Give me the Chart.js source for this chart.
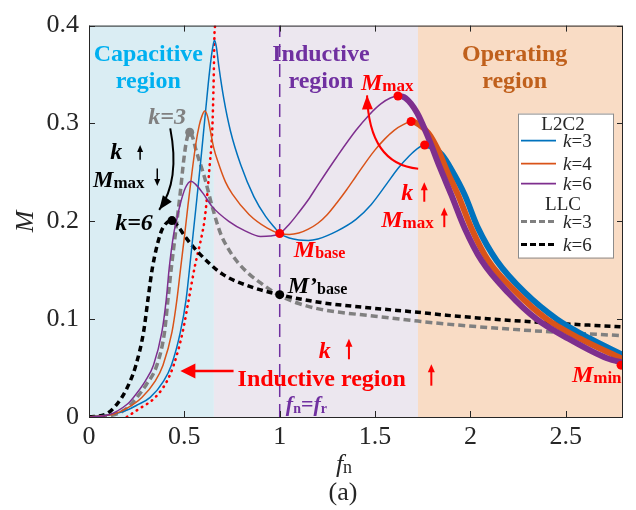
<!DOCTYPE html>
<html>
<head>
<meta charset="utf-8">
<script src="https://cdn.jsdelivr.net/npm/chart.js@4.4.0/dist/chart.umd.min.js"></script>
<style>
  html, body { margin: 0; padding: 0; background: #fff; }
  #wrap { width: 636px; height: 510px; position: relative; }
</style>
</head>
<body>
<div id="wrap"><canvas id="chart"></canvas></div>
<script>
// tick labels
var xTicks = [0, 0.5, 1, 1.5, 2, 2.5];
var yTicks = [0, 0.1, 0.2, 0.3, 0.4];

// fn borders of the capacitive / inductive / operating regions
var regionEdges = [0, 0.655, 1.725, 2.8];

// L2C2, k=3
var l2c2K3X = [0, 0.137, 0.2, 0.25, 0.321, 0.391, 0.432, 0.479, 0.509, 0.528, 0.546, 0.565, 0.585, 0.605, 0.625, 0.64, 0.65, 0.658, 0.668, 0.681, 0.707, 0.742, 0.795, 0.865, 0.926, 0.98, 1.0, 1.05, 1.1, 1.15, 1.2, 1.3, 1.4, 1.479, 1.56, 1.62, 1.68, 1.72, 1.76, 1.8, 1.85, 1.9, 1.97, 2.04, 2.137, 2.286, 2.453, 2.628, 2.804];
var l2c2K3Y = [0, 0.0034, 0.007, 0.012, 0.02, 0.0367, 0.053, 0.0867, 0.12, 0.153, 0.187, 0.222, 0.26, 0.3, 0.34, 0.366, 0.379, 0.385, 0.378, 0.358, 0.325, 0.292, 0.258, 0.225, 0.205, 0.192, 0.1875, 0.183, 0.181, 0.1805, 0.182, 0.19, 0.202, 0.217, 0.238, 0.254, 0.267, 0.274, 0.278, 0.276, 0.268, 0.253, 0.227, 0.193, 0.16, 0.127, 0.1, 0.08, 0.063];

// L2C2, k=4
var l2c2K4X = [0, 0.132, 0.2, 0.277, 0.347, 0.388, 0.435, 0.461, 0.481, 0.502, 0.52, 0.54, 0.56, 0.578, 0.593, 0.607, 0.622, 0.637, 0.654, 0.681, 0.716, 0.751, 0.839, 0.935, 1.0, 1.05, 1.1, 1.15, 1.2, 1.25, 1.3, 1.35, 1.4, 1.45, 1.5, 1.55, 1.6, 1.65, 1.689, 1.73, 1.78, 1.83, 1.88, 1.935, 2.005, 2.093, 2.242, 2.4, 2.575, 2.8];
var l2c2K4Y = [0, 0.003, 0.009, 0.02, 0.0367, 0.053, 0.0867, 0.12, 0.153, 0.187, 0.218, 0.25, 0.279, 0.298, 0.308, 0.3127, 0.307, 0.292, 0.275, 0.258, 0.24, 0.228, 0.207, 0.193, 0.1875, 0.1865, 0.188, 0.192, 0.198, 0.207, 0.219, 0.232, 0.246, 0.26, 0.273, 0.284, 0.293, 0.299, 0.302, 0.299, 0.29, 0.273, 0.25, 0.227, 0.193, 0.16, 0.127, 0.1, 0.08, 0.059];

// L2C2, k=6
var l2c2K6X = [0, 0.1, 0.2, 0.233, 0.295, 0.338, 0.382, 0.405, 0.421, 0.444, 0.458, 0.479, 0.505, 0.535, 0.558, 0.6, 0.646, 0.733, 0.821, 0.9, 0.95, 1.0, 1.05, 1.1, 1.15, 1.2, 1.3, 1.4, 1.47, 1.53, 1.58, 1.62, 1.66, 1.72, 1.78, 1.84, 1.9, 1.97, 2.058, 2.198, 2.347, 2.514, 2.716, 2.81];
var l2c2K6Y = [0, 0.002, 0.013, 0.02, 0.0367, 0.053, 0.0867, 0.12, 0.153, 0.187, 0.2, 0.218, 0.234, 0.241, 0.238, 0.228, 0.215, 0.2, 0.19, 0.1845, 0.185, 0.1875, 0.197, 0.209, 0.222, 0.237, 0.266, 0.293, 0.309, 0.32, 0.326, 0.328, 0.326, 0.311, 0.285, 0.255, 0.227, 0.193, 0.16, 0.127, 0.1, 0.08, 0.06, 0.055];

// LLC, k=3
var llcK3X = [0, 0.1, 0.2, 0.251, 0.3, 0.356, 0.396, 0.414, 0.432, 0.453, 0.479, 0.497, 0.512, 0.528, 0.545, 0.558, 0.61, 0.646, 0.689, 0.73, 0.78, 0.84, 0.9, 0.95, 1.0, 1.1, 1.216, 1.5, 1.725, 1.874, 2.34, 2.81];
var llcK3Y = [0, 0.001, 0.009, 0.02, 0.033, 0.053, 0.0867, 0.12, 0.153, 0.187, 0.23, 0.263, 0.283, 0.291, 0.285, 0.275, 0.242, 0.215, 0.188, 0.172, 0.158, 0.146, 0.137, 0.13, 0.124, 0.116, 0.11, 0.103, 0.098, 0.095, 0.088, 0.083];

// LLC, k=6
var llcK6X = [0, 0.093, 0.172, 0.216, 0.246, 0.286, 0.309, 0.333, 0.374, 0.4, 0.435, 0.47, 0.509, 0.579, 0.7, 0.85, 1.0, 1.216, 1.5, 1.725, 1.874, 2.34, 2.81];
var llcK6Y = [0, 0.0034, 0.02, 0.0367, 0.053, 0.0867, 0.12, 0.153, 0.187, 0.197, 0.2007, 0.194, 0.183, 0.167, 0.146, 0.133, 0.125, 0.117, 0.111, 0.107, 0.104, 0.097, 0.092];

// red dotted boundary curve
var boundX = [0.198, 0.26, 0.347, 0.409, 0.444, 0.491, 0.523, 0.554, 0.593, 0.605, 0.619, 0.633, 0.646, 0.654, 0.658, 0.661];
var boundY = [0, 0.008, 0.02, 0.0367, 0.053, 0.0867, 0.12, 0.153, 0.187, 0.2, 0.225, 0.258, 0.292, 0.347, 0.392, 0.4];

// fn = fr
var resX = [1, 1];
var resY = [0, 0.4];

// marked points
var mMaxX = [1.76, 1.689, 1.62];      // k=3, k=4, k=6
var mMaxY = [0.278, 0.302, 0.328];
var redDotX = [1, 2.79];              // Mbase, Mmin
var redDotY = [0.1875, 0.053];
var blackDotX = [0.435, 1];           // LLC k=6 peak, M'base
var blackDotY = [0.2007, 0.125];
var grayDotX = [0.528];
var grayDotY = [0.291];

var SERIF = '"Liberation Serif", "Times New Roman", Times, serif';
function font(style, size) { return style + ' ' + size + 'px ' + SERIF; }
function pts(xs, ys) { return xs.map(function (x, i) { return { x: x, y: ys[i] }; }); }

var BLUE = '#0072bd', ORANGE = '#d95319', PURPLE = '#7e2f8e';
var RED = '#ff0000', GRAY = '#808080', AXIS = '#262626';
var regionColors = ['#daedf3', '#ece7ef', '#f9dcc5'];

function thickAfter(xStart) {
    return function (c) { return c.p0.parsed.x >= xStart - 1e-6 ? 6 : 1.5; };
}

// texts: x, y (data units), align, colour, parts [text, font, dy]
var BI24 = font('italic bold', 24), B17 = font('bold', 17);
var notes = [
    [0.311, 0.364, 'center', '#00b0f0', [['Capacitive', font('bold', 24)]]],
    [0.311, 0.336, 'center', '#00b0f0', [['region', font('bold', 24)]]],
    [1.216, 0.364, 'center', '#7030a0', [['Inductive', font('bold', 24)]]],
    [1.216, 0.336, 'center', '#7030a0', [['region', font('bold', 24)]]],
    [2.232, 0.364, 'center', '#c0601c', [['Operating', font('bold', 24)]]],
    [2.232, 0.336, 'center', '#c0601c', [['region', font('bold', 24)]]],
    [1.426, 0.334, 'left', RED, [['M', BI24], ['max', B17, 1]]],
    [0.311, 0.299, 'left', GRAY, [['k=3', BI24]]],
    [0.111, 0.264, 'left', '#000', [['k', BI24]]],
    [0.021, 0.235, 'left', '#000', [['M', font('italic bold', 23)], ['max', B17, 1]]],
    [0.137, 0.191, 'left', '#000', [['k=6', BI24]]],
    [1.637, 0.222, 'left', RED, [['k', BI24]]],
    [1.532, 0.194, 'left', RED, [['M', BI24], ['max', B17, 1]]],
    [1.074, 0.164, 'left', RED, [['M', BI24], ['base', font('bold', 16), 1]]],
    [1.042, 0.127, 'left', '#000', [['M\u2019', BI24], ['base', font('bold', 16), 1]]],
    [1.205, 0.060, 'left', RED, [['k', BI24]]],
    [0.779, 0.032, 'left', RED, [['Inductive region', font('bold', 24)]]],
    [1.032, 0.006, 'left', '#7030a0', [['f', font('italic bold', 22)], ['n', font('bold', 14), 2], ['=', font('bold', 22)], ['f', font('italic bold', 22)], ['r', font('bold', 14), 2]]],
    [2.532, 0.036, 'left', RED, [['M', BI24], ['min', B17, 1]]]
];

// straight arrows: x1, y1 -> x2, y2 (data units), colour, width, head length, head width
var arrows = [
    [0.268, 0.263, 0.268, 0.278, '#000', 1.5, 7, 6],
    [0.358, 0.254, 0.358, 0.236, '#000', 1.5, 7, 6],
    [1.758, 0.220, 1.758, 0.240, RED, 2, 8, 7],
    [1.863, 0.194, 1.863, 0.214, RED, 2, 8, 7],
    [1.363, 0.059, 1.363, 0.080, RED, 2, 8, 7],
    [1.795, 0.032, 1.795, 0.054, RED, 2, 8, 7],
    [0.758, 0.047, 0.479, 0.047, RED, 2.5, 15, 15]
];
// curved arrows: start, control, end (data units)
var curves = [
    [0.426, 0.295, 0.479, 0.2417, 0.368, 0.2117, '#000'],
    [1.726, 0.2537, 1.468, 0.2587, 1.458, 0.3287, RED]
];

function drawRich(ctx, x, y, align, color, parts) {
    var w = 0;
    parts.forEach(function (p) { ctx.font = p[1]; w += ctx.measureText(p[0]).width; });
    var cx = align === 'center' ? x - w / 2 : x;
    ctx.fillStyle = color;
    ctx.textAlign = 'left';
    ctx.textBaseline = 'alphabetic';
    parts.forEach(function (p) {
        ctx.font = p[1];
        ctx.fillText(p[0], cx, y + (p[2] || 0));
        cx += ctx.measureText(p[0]).width;
    });
}

function head(ctx, tx, ty, ang, len, wid) {
    var bx = tx - len * Math.cos(ang), by = ty - len * Math.sin(ang);
    ctx.beginPath();
    ctx.moveTo(tx, ty);
    ctx.lineTo(bx + wid / 2 * Math.sin(ang), by - wid / 2 * Math.cos(ang));
    ctx.lineTo(bx - wid / 2 * Math.sin(ang), by + wid / 2 * Math.cos(ang));
    ctx.closePath();
    ctx.fill();
}

var regionPlugin = {
    id: 'regions',
    beforeDatasetsDraw: function (chart) {
        var ctx = chart.ctx, a = chart.chartArea, xs = chart.scales.x;
        ctx.save();
        for (var i = 0; i < regionColors.length; i++) {
            var x0 = xs.getPixelForValue(regionEdges[i]);
            var x1 = xs.getPixelForValue(regionEdges[i + 1]);
            ctx.fillStyle = regionColors[i];
            ctx.fillRect(x0, a.top, x1 - x0, a.bottom - a.top);
        }
        ctx.restore();
    }
};

var decorPlugin = {
    id: 'decor',
    afterDatasetsDraw: function (chart) {
        var ctx = chart.ctx, a = chart.chartArea, xs = chart.scales.x, ys = chart.scales.y;
        ctx.save();

        // box and inward ticks
        ctx.strokeStyle = AXIS;
        ctx.lineWidth = 1;
        ctx.strokeRect(a.left + 0.5, a.top + 0.5, a.right - a.left - 1, a.bottom - a.top);
        ctx.beginPath();
        xTicks.forEach(function (v) {
            var p = Math.round(xs.getPixelForValue(v)) + 0.5;
            ctx.moveTo(p, a.bottom); ctx.lineTo(p, a.bottom - 6);
            ctx.moveTo(p, a.top); ctx.lineTo(p, a.top + 6);
        });
        yTicks.forEach(function (v) {
            var p = Math.round(ys.getPixelForValue(v)) + 0.5;
            ctx.moveTo(a.left, p); ctx.lineTo(a.left + 6, p);
            ctx.moveTo(a.right, p); ctx.lineTo(a.right - 6, p);
        });
        ctx.stroke();

        // axis titles
        ctx.save();
        ctx.translate(26, (a.top + a.bottom) / 2);
        ctx.rotate(-Math.PI / 2);
        ctx.font = font('italic', 26);
        ctx.fillStyle = AXIS;
        ctx.textAlign = 'center';
        ctx.textBaseline = 'middle';
        ctx.fillText('M', 0, 0);
        ctx.restore();
        drawRich(ctx, 344, 472, 'center', AXIS, [['f', font('italic', 26)], ['n', font('normal', 18), 1]]);
        drawRich(ctx, 343, 500, 'center', AXIS, [['(a)', font('normal', 26)]]);

        // annotations
        notes.forEach(function (n) {
            drawRich(ctx, xs.getPixelForValue(n[0]), ys.getPixelForValue(n[1]), n[2], n[3], n[4]);
        });
        arrows.forEach(function (r) {
            var x1 = xs.getPixelForValue(r[0]), y1 = ys.getPixelForValue(r[1]);
            var x2 = xs.getPixelForValue(r[2]), y2 = ys.getPixelForValue(r[3]);
            var ang = Math.atan2(y2 - y1, x2 - x1);
            ctx.strokeStyle = r[4]; ctx.fillStyle = r[4]; ctx.lineWidth = r[5];
            ctx.beginPath();
            ctx.moveTo(x1, y1);
            ctx.lineTo(x2 - r[6] * 0.8 * Math.cos(ang), y2 - r[6] * 0.8 * Math.sin(ang));
            ctx.stroke();
            head(ctx, x2, y2, ang, r[6], r[7]);
        });
        curves.forEach(function (c) {
            var x0 = xs.getPixelForValue(c[0]), y0 = ys.getPixelForValue(c[1]);
            var cx = xs.getPixelForValue(c[2]), cy = ys.getPixelForValue(c[3]);
            var x2 = xs.getPixelForValue(c[4]), y2 = ys.getPixelForValue(c[5]);
            ctx.strokeStyle = c[6]; ctx.fillStyle = c[6]; ctx.lineWidth = 2;
            ctx.beginPath();
            ctx.moveTo(x0, y0);
            ctx.quadraticCurveTo(cx, cy, x2, y2);
            ctx.stroke();
            head(ctx, x2, y2, Math.atan2(y2 - cy, x2 - cx), 14, 11);
        });
        ctx.restore();
    },
    afterDraw: function (chart) {
        // legend box
        var ctx = chart.ctx, a = chart.chartArea;
        var L = a.right - 105, T = a.top + 88, W = 95, H = 144;
        ctx.save();
        ctx.fillStyle = '#fff';
        ctx.fillRect(L, T, W, H);
        ctx.strokeStyle = '#8c8c8c';
        ctx.lineWidth = 1;
        ctx.strokeRect(L + 0.5, T + 0.5, W, H);
        var rows = [
            ['L2C2', 16],
            ['3', 33, BLUE, 1.8, []],
            ['4', 56, ORANGE, 1.8, []],
            ['6', 76, PURPLE, 1.8, []],
            ['LLC', 96],
            ['3', 114, GRAY, 3, [6, 3]],
            ['6', 137, '#000', 3, [6, 3]]
        ];
        rows.forEach(function (r) {
            if (r.length === 2) {
                drawRich(ctx, L + 45, T + r[1], 'center', AXIS, [[r[0], font('normal', 19)]]);
                return;
            }
            ctx.strokeStyle = r[2];
            ctx.lineWidth = r[3];
            ctx.setLineDash(r[4]);
            ctx.beginPath();
            ctx.moveTo(L + 3, T + r[1] - 6);
            ctx.lineTo(L + 38, T + r[1] - 6);
            ctx.stroke();
            ctx.setLineDash([]);
            drawRich(ctx, L + 45, T + r[1], 'left', AXIS, [['k', font('italic', 19)], ['=' + r[0], font('normal', 19)]]);
        });
        ctx.restore();
    }
};

function lineSet(label, xs, ys, color, extra) {
    var d = {
        label: label, data: pts(xs, ys), showLine: true, borderColor: color,
        backgroundColor: color, borderWidth: 1.5, pointRadius: 0, fill: false
    };
    for (var k in extra) d[k] = extra[k];
    return d;
}
function dotSet(label, xs, ys, color) {
    return { label: label, data: pts(xs, ys), showLine: false, pointRadius: 4.5,
             pointBackgroundColor: color, pointBorderWidth: 0, backgroundColor: color, order: 0 };
}

var ctx = document.getElementById('chart').getContext('2d');
var chart = new Chart(ctx, {
    type: 'scatter',
    data: {
        datasets: [
            lineSet('fn = fr', resX, resY, '#7030a0', { borderDash: [13, 7], order: 9, cubicInterpolationMode: 'default', tension: 0 }),
            lineSet('boundary', boundX, boundY, RED, { borderDash: [0.5, 5.5], borderWidth: 2.6, borderCapStyle: 'round', order: 8 }),
            lineSet('LLC k=3', llcK3X, llcK3Y, GRAY, { borderDash: [7, 4], borderWidth: 3.5, order: 7 }),
            lineSet('LLC k=6', llcK6X, llcK6Y, '#000', { borderDash: [6, 4], borderWidth: 3.5, order: 6 }),
            lineSet('L2C2 k=3', l2c2K3X, l2c2K3Y, BLUE, { order: 5, segment: { borderWidth: thickAfter(mMaxX[0]) } }),
            lineSet('L2C2 k=4', l2c2K4X, l2c2K4Y, ORANGE, { order: 4, segment: { borderWidth: thickAfter(mMaxX[1]) } }),
            lineSet('L2C2 k=6', l2c2K6X, l2c2K6Y, PURPLE, { order: 3, segment: { borderWidth: thickAfter(mMaxX[2]) } }),
            dotSet('Mmax', mMaxX, mMaxY, RED),
            dotSet('Mbase / Mmin', redDotX, redDotY, RED),
            dotSet('LLC marks', blackDotX, blackDotY, '#000'),
            dotSet('LLC k=3 peak', grayDotX, grayDotY, GRAY)
        ]
    },
    options: {
        responsive: true,
        maintainAspectRatio: false,
        animation: false,
        events: [],
        layout: { padding: { top: 16, right: 13, left: 0, bottom: 0 } },
        elements: { line: { cubicInterpolationMode: 'monotone' } },
        plugins: { legend: { display: false }, tooltip: { enabled: false } },
        scales: {
            x: {
                type: 'linear', min: 0, max: 2.8,
                grid: { display: false, drawTicks: false },
                border: { display: false },
                ticks: { color: AXIS, padding: 5, maxRotation: 0, autoSkip: false,
                         font: { family: SERIF, size: 26 },
                         callback: function (v) { return String(v); } },
                afterBuildTicks: function (s) { s.ticks = xTicks.map(function (v) { return { value: v }; }); },
                afterFit: function (s) { s.height = 93; }
            },
            y: {
                type: 'linear', min: 0, max: 0.4,
                grid: { display: false, drawTicks: false },
                border: { display: false },
                ticks: { color: AXIS, padding: 10, font: { family: SERIF, size: 26 },
                         callback: function (v) { return String(v); } },
                afterBuildTicks: function (s) { s.ticks = yTicks.map(function (v) { return { value: v }; }); },
                afterFit: function (s) { s.width = 89; }
            }
        }
    },
    plugins: [regionPlugin, decorPlugin]
});
</script>
</body>
</html>
